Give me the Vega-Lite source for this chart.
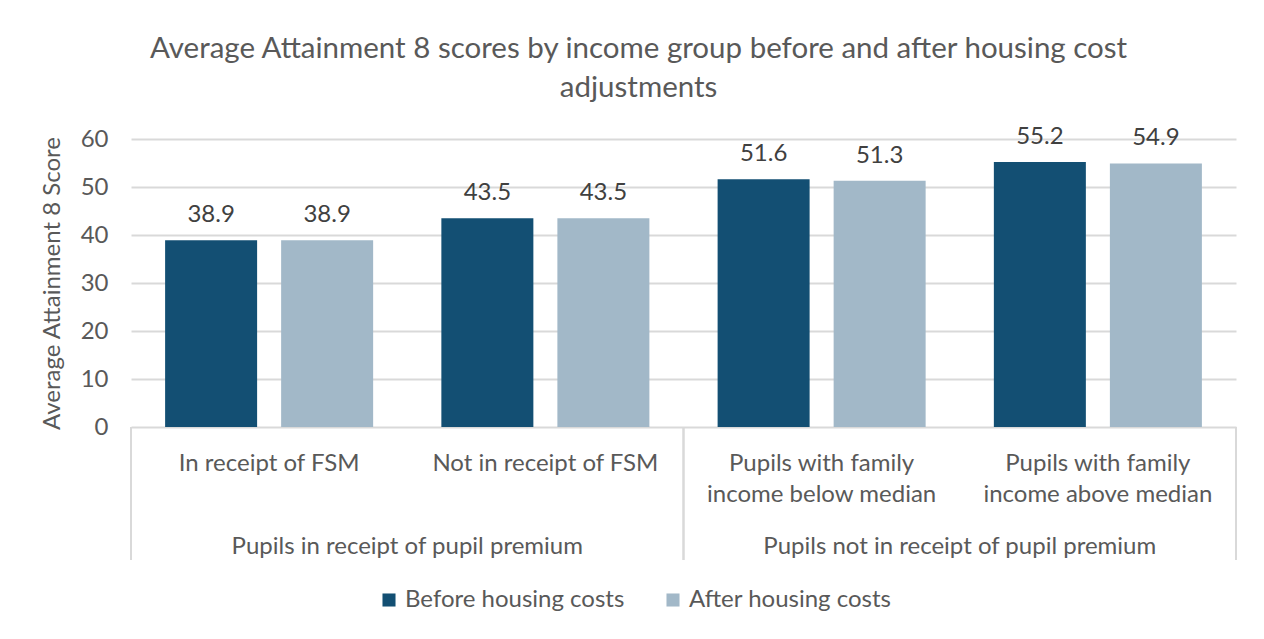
{
  "$schema": "https://vega.github.io/schema/vega-lite/v6.json",
  "padding": {"left": 40, "top": 33, "right": 5, "bottom": 5},
  "background": "white",
  "bounds": "flush",
  "spacing": 0,
  "title": {
    "text": ["Average Attainment 8 scores by income group before and after housing cost", "adjustments"],
    "fontSize": 29.5, "font": "Lato", "fontWeight": "normal", "color": "#595959",
    "anchor": "middle", "frame": "bounds", "lineHeight": 39, "offset": 22
  },
  "data": {"values": [
    {"group": "Pupils in receipt of pupil premium", "sub": "In receipt of FSM", "series": "Before housing costs", "value": 38.9},
    {"group": "Pupils in receipt of pupil premium", "sub": "In receipt of FSM", "series": "After housing costs", "value": 38.9},
    {"group": "Pupils in receipt of pupil premium", "sub": "Not in receipt of FSM", "series": "Before housing costs", "value": 43.5},
    {"group": "Pupils in receipt of pupil premium", "sub": "Not in receipt of FSM", "series": "After housing costs", "value": 43.5},
    {"group": "Pupils not in receipt of pupil premium", "sub": "Pupils with family\nincome below median", "series": "Before housing costs", "value": 51.6},
    {"group": "Pupils not in receipt of pupil premium", "sub": "Pupils with family\nincome below median", "series": "After housing costs", "value": 51.3},
    {"group": "Pupils not in receipt of pupil premium", "sub": "Pupils with family\nincome above median", "series": "Before housing costs", "value": 55.2},
    {"group": "Pupils not in receipt of pupil premium", "sub": "Pupils with family\nincome above median", "series": "After housing costs", "value": 54.9}
  ]},
  "config": {"font": "Lato", "view": {"stroke": null}},
  "vconcat": [
    {
      "width": 1105,
      "height": 288,
      "encoding": {
        "x": {"field": "sub", "type": "nominal",
              "sort": ["In receipt of FSM", "Not in receipt of FSM", "Pupils with family\nincome below median", "Pupils with family\nincome above median"],
              "scale": {"paddingInner": 0, "paddingOuter": 0}, "axis": null},
        "xOffset": {"field": "series", "type": "nominal",
              "sort": ["Before housing costs", "After housing costs"],
              "scale": {"paddingInner": 0.207, "paddingOuter": 0.294}},
        "y": {"field": "value", "type": "quantitative",
              "scale": {"domain": [0, 60]},
              "axis": {"values": [0, 10, 20, 30, 40, 50, 60], "domain": false, "ticks": false,
                       "gridColor": "#D9D9D9", "gridWidth": 2,
                       "labelFontSize": 24, "labelColor": "#595959", "labelPadding": 23,
                       "title": "Average Attainment 8 Score", "titleFontSize": 24, "titleFontWeight": "normal",
                       "titleColor": "#595959", "titlePadding": 16}}
      },
      "layer": [
        {
          "mark": {"type": "bar"},
          "encoding": {
            "color": {"field": "series", "type": "nominal",
                      "scale": {"domain": ["Before housing costs", "After housing costs"], "range": ["#134F73", "#A2B8C8"]},
                      "legend": {"orient": "none", "legendX": 246, "legendY": 449, "direction": "horizontal", "title": null,
                                 "symbolType": "square", "symbolSize": 170, "symbolStrokeWidth": 0,
                                 "labelFontSize": 24, "labelColor": "#595959", "columnPadding": 36,
                                 "labelOffset": 4, "labelLimit": 0}}
          }
        },
        {
          "mark": {"type": "text", "baseline": "bottom", "dy": -13, "fontSize": 24, "color": "#404040"},
          "encoding": {"text": {"field": "value", "type": "quantitative", "format": ".1f"}}
        }
      ]
    },
    {
      "width": 1105,
      "height": 133,
      "layer": [
        {
          "transform": [{"aggregate": [{"op": "count", "as": "n"}], "groupby": ["group"]}],
          "mark": {"type": "rule", "color": "#D9D9D9", "strokeWidth": 2},
          "encoding": {"x": {"field": "group", "type": "nominal", "bandPosition": 0,
                             "scale": {"paddingInner": 0, "paddingOuter": 0}, "axis": null}}
        },
        {
          "transform": [{"aggregate": [{"op": "count", "as": "n"}], "groupby": ["group"]}],
          "mark": {"type": "rule", "color": "#D9D9D9", "strokeWidth": 2},
          "encoding": {"x": {"field": "group", "type": "nominal", "bandPosition": 1,
                             "scale": {"paddingInner": 0, "paddingOuter": 0}, "axis": null}}
        },
        {
          "transform": [{"filter": "datum.series == 'Before housing costs'"}],
          "mark": {"type": "text", "baseline": "top", "lineBreak": "\n", "lineHeight": 31, "fontSize": 24, "color": "#595959"},
          "encoding": {
            "x": {"field": "sub", "type": "nominal",
                  "sort": ["In receipt of FSM", "Not in receipt of FSM", "Pupils with family\nincome below median", "Pupils with family\nincome above median"],
                  "scale": {"paddingInner": 0, "paddingOuter": 0}, "axis": null},
            "y": {"datum": "Income group", "type": "nominal",
                  "scale": {"type": "point", "domain": ["Income group", "Pupil premium"], "padding": 0.3}, "axis": null},
            "text": {"field": "sub"}
          }
        },
        {
          "transform": [{"aggregate": [{"op": "count", "as": "n"}], "groupby": ["group"]}],
          "mark": {"type": "text", "baseline": "top", "fontSize": 24, "color": "#595959"},
          "encoding": {
            "x": {"field": "group", "type": "nominal", "scale": {"paddingInner": 0, "paddingOuter": 0}, "axis": null},
            "y": {"datum": "Pupil premium", "type": "nominal",
                  "scale": {"type": "point", "domain": ["Income group", "Pupil premium"], "padding": 0.3}, "axis": null},
            "text": {"field": "group"}
          }
        }
      ],
      "resolve": {"scale": {"x": "independent"}}
    }
  ]
}
